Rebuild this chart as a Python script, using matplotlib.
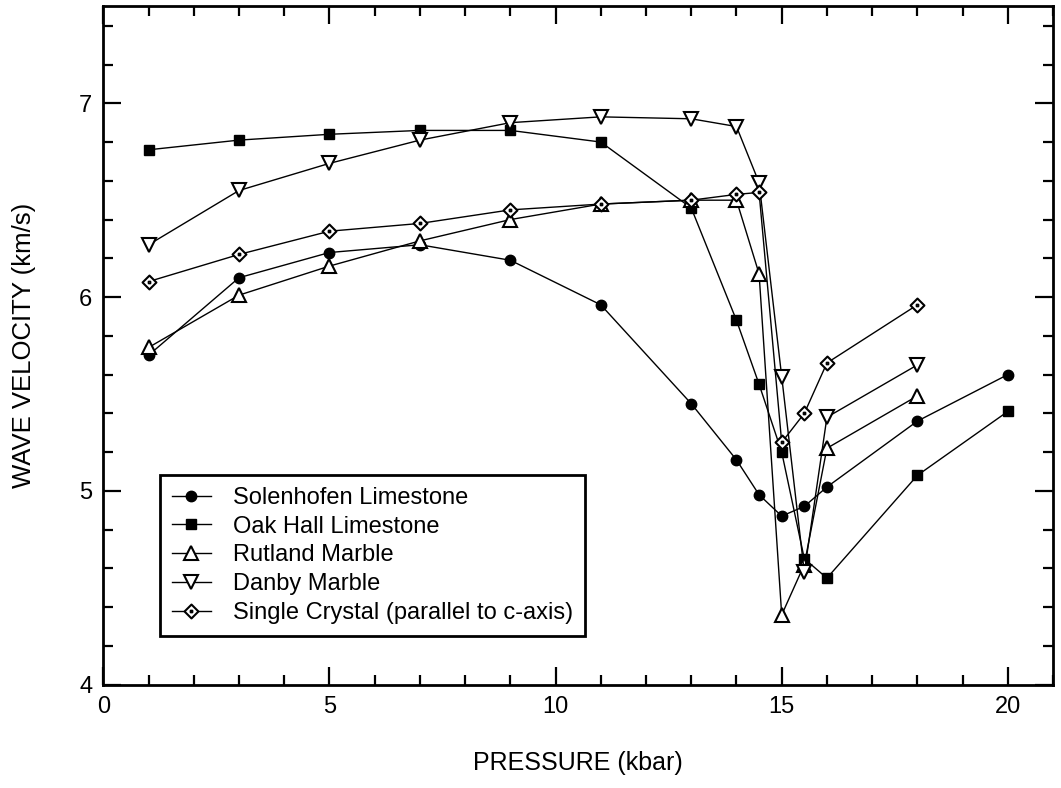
import matplotlib
matplotlib.use("Agg")
import matplotlib.pyplot as plt
from matplotlib.path import Path
from matplotlib.ticker import MultipleLocator

plt.rcParams['font.family'] = ['Liberation Sans', 'DejaVu Sans']

# Pressures (kbar)
pressure_long = [1, 3, 5, 7, 9, 11, 13, 14, 14.5, 15, 15.5, 16, 18, 20]
pressure_short = [1, 3, 5, 7, 9, 11, 13, 14, 14.5, 15, 15.5, 16, 18]

# Wave velocities (km/s)
solenhofen = [5.70, 6.10, 6.23, 6.27, 6.19, 5.96, 5.45, 5.16, 4.98, 4.87, 4.92, 5.02, 5.36, 5.60]
oak_hall = [6.76, 6.81, 6.84, 6.86, 6.86, 6.80, 6.46, 5.88, 5.55, 5.20, 4.65, 4.55, 5.08, 5.41]
rutland = [5.74, 6.01, 6.16, 6.29, 6.40, 6.48, 6.50, 6.50, 6.12, 4.36, 4.62, 5.22, 5.49]
danby = [6.27, 6.55, 6.69, 6.81, 6.90, 6.93, 6.92, 6.88, 6.59, 5.59, 4.58, 5.38, 5.65]
single_crystal = [6.08, 6.22, 6.34, 6.38, 6.45, 6.48, 6.50, 6.53, 6.54, 5.25, 5.40, 5.66, 5.96]

labels = ["Solenhofen Limestone", "Oak Hall Limestone", "Rutland Marble",
          "Danby Marble", "Single Crystal (parallel to c-axis)"]

# Diamond with a small dot in the centre
d = 0.12
dot_diamond = Path(
    [(0, 1), (1, 0), (0, -1), (-1, 0), (0, 1),
     (-d, -d), (d, -d), (d, d), (-d, d), (-d, -d)],
    [Path.MOVETO, Path.LINETO, Path.LINETO, Path.LINETO, Path.CLOSEPOLY,
     Path.MOVETO, Path.LINETO, Path.LINETO, Path.LINETO, Path.CLOSEPOLY])

fig = plt.figure(figsize=(10.61, 7.88), dpi=100)
ax = fig.add_axes([0.0974, 0.1311, 0.8951, 0.8608])

lw = 1.0
ax.plot(pressure_long, solenhofen, color='black', lw=lw, marker='o', ms=7.5,
        mfc='black', mec='black', label=labels[0], zorder=3)
ax.plot(pressure_long, oak_hall, color='black', lw=lw, marker='s', ms=7,
        mfc='black', mec='black', label=labels[1], zorder=3)
ax.plot(pressure_short, rutland, color='black', lw=lw, marker='^', ms=10,
        mfc='white', mec='black', mew=1.5, label=labels[2], zorder=3)
ax.plot(pressure_short, danby, color='black', lw=lw, marker='v', ms=10,
        mfc='white', mec='black', mew=1.5, label=labels[3], zorder=3)
ax.plot(pressure_short, single_crystal, color='black', lw=lw, marker=dot_diamond, ms=10,
        mfc='white', mec='black', mew=1.5, label=labels[4], zorder=4)

ax.set_xlim(0, 21)
ax.set_ylim(4, 7.5)
ax.xaxis.set_major_locator(MultipleLocator(5))
ax.xaxis.set_minor_locator(MultipleLocator(1))
ax.yaxis.set_major_locator(MultipleLocator(1))
ax.yaxis.set_minor_locator(MultipleLocator(0.2))
ax.set_xticks([0, 5, 10, 15, 20])
ax.set_yticks([4, 5, 6, 7])

ax.tick_params(which='both', direction='in', top=True, right=True,
               width=1.6, labelsize=17, color='black')
ax.tick_params(which='major', length=13, pad=8)
ax.tick_params(which='minor', length=7)
for s in ax.spines.values():
    s.set_linewidth(2)

ax.set_xlabel("PRESSURE (kbar)", fontsize=18, labelpad=24)
ax.set_ylabel("WAVE VELOCITY (km/s)", fontsize=18.5, labelpad=31)

leg = ax.legend(loc='lower left', bbox_to_anchor=(0.0597, 0.0718), fontsize=17,
                frameon=True, fancybox=False, edgecolor='black', framealpha=1,
                handlelength=1.65, handletextpad=0.95, labelspacing=0.29,
                borderpad=0.5, borderaxespad=0)
leg.get_frame().set_linewidth(2)

fig.savefig("out.png", dpi=100)
